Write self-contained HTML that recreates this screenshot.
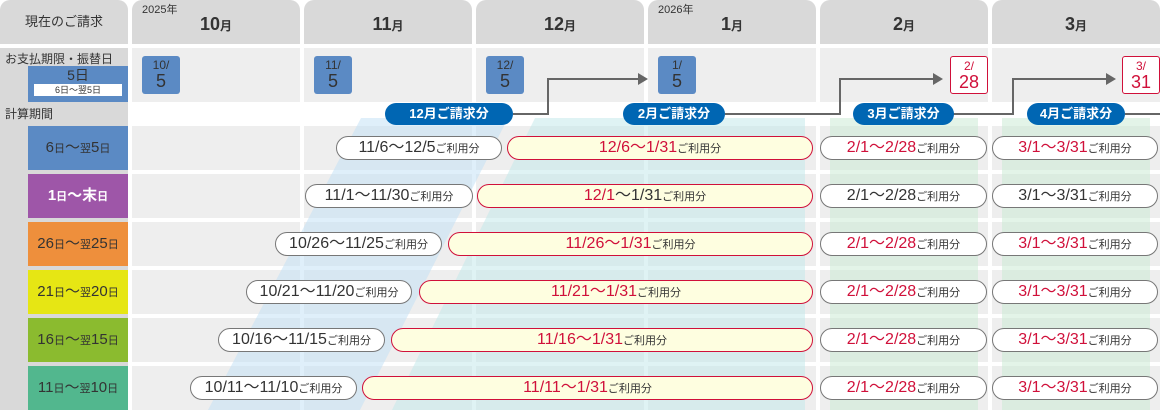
<!DOCTYPE html>
<html><head><meta charset="utf-8"><style>
*{margin:0;padding:0;box-sizing:border-box}
body{width:1160px;height:410px;overflow:hidden;background:#fff;position:relative;font-family:"Liberation Sans","Noto Sans CJK JP",sans-serif;color:#333}
.a{position:absolute}
.hd{background:#d9d9d9;border-radius:10px 10px 0 0;top:0;height:44px;text-align:center;font-size:18px;font-weight:bold;line-height:48px;color:#333}
.hd small{font-size:12px}
.yr{position:absolute;left:10px;top:3px;font-size:11px;font-weight:normal;line-height:14px}
.lab{left:28px;width:100px;height:44px;text-align:center;line-height:44px;font-size:15px;color:#333}
.lab small{font-size:11px}
.pay{width:38px;height:38px;top:56px;background:#5b8ac4;border-radius:3px;text-align:center;font-size:12px;line-height:13px;color:#333;padding-top:3px}
.pay b{display:block;font-size:18px;font-weight:normal;line-height:19px}
.payr{background:#fff;border:1px solid #d0103a;color:#d0103a}
.badge{top:103px;height:22px;background:#0066b3;border-radius:11px;color:#fff;font-size:13px;font-weight:bold;text-align:center;line-height:22px}
.pill{height:24px;border:1px solid #777;border-radius:12px;background:#fff;text-align:center;line-height:22px;font-size:16px;color:#333;white-space:nowrap}
.pill small{font-size:11px;color:#333}
.y{background:#fefee0;border-color:#d0103a;color:#d0103a}
.r{color:#d0103a}
</style></head><body>
<div class="a" style="left:0;top:0;width:128px;height:44px;background:#d9d9d9;border-radius:10px 10px 0 0;text-align:center;line-height:44px;font-size:13px">現在のご請求</div>
<div class="a" style="left:0;top:48px;width:128px;height:362px;background:#d9d9d9"></div>
<div class="a" style="left:5px;top:50px;font-size:12px">お支払期限・振替日</div>
<div class="a" style="left:28px;top:66px;width:100px;height:36px;background:#5b8ac4;text-align:center;font-size:14px;line-height:16px;padding-top:1px">5日<div style="margin:1px 6px 0;background:#fff;font-size:9px;line-height:12px;height:12px">6日～翌5日</div></div>
<div class="a" style="left:0;top:102px;width:128px;height:24px;background:#d9d9d9;font-size:12px;line-height:24px;padding-left:5px">計算期間</div>
<div class="a lab" style="top:126px;background:#5b8ac4">6<small>日</small>～<small>翌</small>5<small>日</small></div>
<div class="a lab" style="top:174px;background:#9e56a8;color:#fff;font-weight:bold">1<small>日</small>～末<small>日</small></div>
<div class="a lab" style="top:222px;background:#ee8f3c">26<small>日</small>～<small>翌</small>25<small>日</small></div>
<div class="a lab" style="top:270px;background:#e6e614">21<small>日</small>～<small>翌</small>20<small>日</small></div>
<div class="a lab" style="top:318px;background:#8bbb2f">16<small>日</small>～<small>翌</small>15<small>日</small></div>
<div class="a lab" style="top:366px;background:#52b78e">11<small>日</small>～<small>翌</small>10<small>日</small></div>

<div class="a hd" style="left:132px;width:168px"><span class="yr">2025年</span>10<small>月</small></div>
<div class="a hd" style="left:304px;width:168px">11<small>月</small></div>
<div class="a hd" style="left:476px;width:168px">12<small>月</small></div>
<div class="a hd" style="left:648px;width:168px"><span class="yr">2026年</span>1<small>月</small></div>
<div class="a hd" style="left:820px;width:168px">2<small>月</small></div>
<div class="a hd" style="left:992px;width:168px">3<small>月</small></div>

<svg class="a" style="left:0;top:0" width="1160" height="410">
<g fill="#eeeeee">
<rect x="132" y="48" width="168" height="54"/><rect x="304" y="48" width="168" height="54"/><rect x="476" y="48" width="168" height="54"/><rect x="648" y="48" width="168" height="54"/><rect x="820" y="48" width="168" height="54"/><rect x="992" y="48" width="168" height="54"/>
</g>
<g fill="#eeeeee">
<rect x="132" y="126" width="1028" height="44"/><rect x="132" y="174" width="1028" height="44"/><rect x="132" y="222" width="1028" height="44"/><rect x="132" y="270" width="1028" height="44"/><rect x="132" y="318" width="1028" height="44"/><rect x="132" y="366" width="1028" height="44"/>
</g>
<g fill="#fff"><rect x="300" y="126" width="4" height="284"/><rect x="472" y="126" width="4" height="284"/><rect x="644" y="126" width="4" height="284"/><rect x="816" y="126" width="4" height="284"/><rect x="988" y="126" width="4" height="284"/></g>
<polygon points="361,118 508,118 360,410 208,410" fill="#bfe0f5" opacity="0.5"/>
<polygon points="535,118 805,118 805,410 392,410" fill="#bfe8ea" opacity="0.5"/>
<rect x="830" y="118" width="148" height="292" fill="#c8ead2" opacity="0.5"/>
<rect x="1002" y="118" width="148" height="292" fill="#c8ead2" opacity="0.5"/>
<g fill="none" stroke="#666" stroke-width="2">
<polyline points="513,114 548,114 548,79 640,79"/>
<polyline points="725,114 840,114 840,79 935,79"/>
<polyline points="952,114 1013,114 1013,79 1108,79"/>
<line x1="1125" y1="114" x2="1160" y2="114"/>
</g>
<g fill="#666"><polygon points="638,73 648,79 638,85"/><polygon points="933,73 943,79 933,85"/><polygon points="1106,73 1116,79 1106,85"/></g>
</svg>

<div class="a pay" style="left:142px">10/<b>5</b></div>
<div class="a pay" style="left:314px">11/<b>5</b></div>
<div class="a pay" style="left:486px">12/<b>5</b></div>
<div class="a pay" style="left:658px">1/<b>5</b></div>
<div class="a pay payr" style="left:950px">2/<b>28</b></div>
<div class="a pay payr" style="left:1122px">3/<b>31</b></div>

<div class="a badge" style="left:385px;width:128px">12月ご請求分</div>
<div class="a badge" style="left:623px;width:102px">2月ご請求分</div>
<div class="a badge" style="left:853px;width:101px">3月ご請求分</div>
<div class="a badge" style="left:1027px;width:98px">4月ご請求分</div>

<div class="a pill" style="left:336px;top:136px;width:166px">11/6〜12/5<small>ご利用分</small></div>
<div class="a pill y" style="left:507px;top:136px;width:306px">12/6〜1/31<small>ご利用分</small></div>
<div class="a pill r" style="left:820px;top:136px;width:167px">2/1〜2/28<small>ご利用分</small></div>
<div class="a pill r" style="left:992px;top:136px;width:166px">3/1〜3/31<small>ご利用分</small></div>
<div class="a pill" style="left:305px;top:184px;width:168px">11/1〜11/30<small>ご利用分</small></div>
<div class="a pill y" style="left:477px;top:184px;width:336px">12/1<span style="color:#333">〜1/31</span><small>ご利用分</small></div>
<div class="a pill" style="left:820px;top:184px;width:167px">2/1〜2/28<small>ご利用分</small></div>
<div class="a pill" style="left:992px;top:184px;width:166px">3/1〜3/31<small>ご利用分</small></div>
<div class="a pill" style="left:275px;top:232px;width:167px">10/26〜11/25<small>ご利用分</small></div>
<div class="a pill y" style="left:448px;top:232px;width:365px">11/26〜1/31<small>ご利用分</small></div>
<div class="a pill r" style="left:820px;top:232px;width:167px">2/1〜2/28<small>ご利用分</small></div>
<div class="a pill r" style="left:992px;top:232px;width:166px">3/1〜3/31<small>ご利用分</small></div>
<div class="a pill" style="left:246px;top:280px;width:166px">10/21〜11/20<small>ご利用分</small></div>
<div class="a pill y" style="left:419px;top:280px;width:394px">11/21〜1/31<small>ご利用分</small></div>
<div class="a pill r" style="left:820px;top:280px;width:167px">2/1〜2/28<small>ご利用分</small></div>
<div class="a pill r" style="left:992px;top:280px;width:166px">3/1〜3/31<small>ご利用分</small></div>
<div class="a pill" style="left:218px;top:328px;width:167px">10/16〜11/15<small>ご利用分</small></div>
<div class="a pill y" style="left:391px;top:328px;width:422px">11/16〜1/31<small>ご利用分</small></div>
<div class="a pill r" style="left:820px;top:328px;width:167px">2/1〜2/28<small>ご利用分</small></div>
<div class="a pill r" style="left:992px;top:328px;width:166px">3/1〜3/31<small>ご利用分</small></div>
<div class="a pill" style="left:190px;top:376px;width:167px">10/11〜11/10<small>ご利用分</small></div>
<div class="a pill y" style="left:362px;top:376px;width:451px">11/11〜1/31<small>ご利用分</small></div>
<div class="a pill r" style="left:820px;top:376px;width:167px">2/1〜2/28<small>ご利用分</small></div>
<div class="a pill r" style="left:992px;top:376px;width:166px">3/1〜3/31<small>ご利用分</small></div>
</body></html>
